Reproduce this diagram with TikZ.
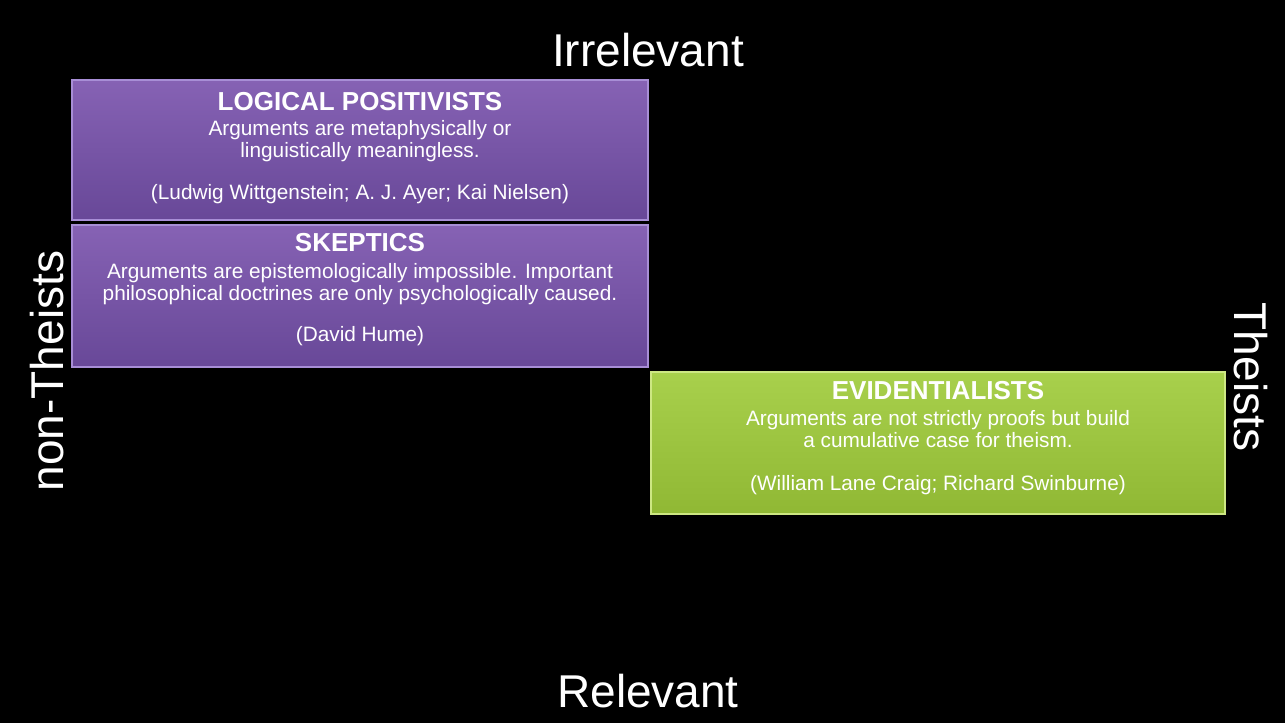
\documentclass[tikz,border=0pt]{standalone}
\usepackage{fontspec}
\setmainfont{Liberation Sans}
\definecolor{PVPurple}{HTML}{8662B4}
\definecolor{PVPurpleDark}{HTML}{684898}
\definecolor{PVRim}{HTML}{A88ED6}
\definecolor{EVGreen}{HTML}{A8D04C}
\definecolor{EVGreenDark}{HTML}{90B834}
\definecolor{EVRim}{HTML}{CDE783}
\tikzset{
  axislabel/.style={text=white,inner sep=0pt,anchor=base,font=\fontsize{46}{50}\selectfont},
  boxtitle/.style={text=white,inner sep=0pt,anchor=base,font=\fontsize{26}{28}\selectfont\bfseries},
  boxbody/.style={text=white,inner sep=0pt,anchor=base,font=\fontsize{20.8}{22}\selectfont},
}
\begin{document}
\begin{tikzpicture}[x=1pt,y=-1pt]
\path[use as bounding box] (0,0) rectangle (1285,723);
\fill[black] (0,0) rectangle (1285,723);
% axis labels
\node[axislabel] (irrelevant) at (648,66) {Irrelevant};
\node[axislabel] (relevant) at (648,707) {Relevant};
\node[axislabel,rotate=90] (nontheists) at (63,371) {non-Theists};
\node[axislabel,rotate=-90] (theists) at (1234,377) {Theists};
% logical positivists
\shade[top color=PVPurple,bottom color=PVPurpleDark] (72,80) rectangle (648,220);
\draw[PVRim,line width=1.5pt] (72,80) rectangle (648,220);
\node[boxtitle] (lptitle) at (360,110) {LOGICAL POSITIVISTS};
\node[boxbody] (lpa) at (360,135) {Arguments are metaphysically or};
\node[boxbody] (lpb) at (360,157) {linguistically meaningless.};
\node[boxbody] (lpcite) at (360,199) {(Ludwig Wittgenstein; A. J. Ayer; Kai Nielsen)};
% skeptics
\shade[top color=PVPurple,bottom color=PVPurpleDark] (72,225) rectangle (648,367);
\draw[PVRim,line width=1.5pt] (72,225) rectangle (648,367);
\node[boxtitle] (sktitle) at (360,251) {SKEPTICS};
\node[boxbody] (ska) at (360,278) {Arguments are epistemologically impossible. Important};
\node[boxbody] (skb) at (360,300) {philosophical doctrines are only psychologically caused.};
\node[boxbody] (skcite) at (360,341) {(David Hume)};
% evidentialists
\shade[top color=EVGreen,bottom color=EVGreenDark] (651,372) rectangle (1225,514);
\draw[EVRim,line width=1.5pt] (651,372) rectangle (1225,514);
\node[boxtitle] (evtitle) at (938,399) {EVIDENTIALISTS};
\node[boxbody] (eva) at (938,425) {Arguments are not strictly proofs but build};
\node[boxbody] (evb) at (938,447) {a cumulative case for theism.};
\node[boxbody] (evcite) at (938,490) {(William Lane Craig; Richard Swinburne)};
\end{tikzpicture}
\end{document}
